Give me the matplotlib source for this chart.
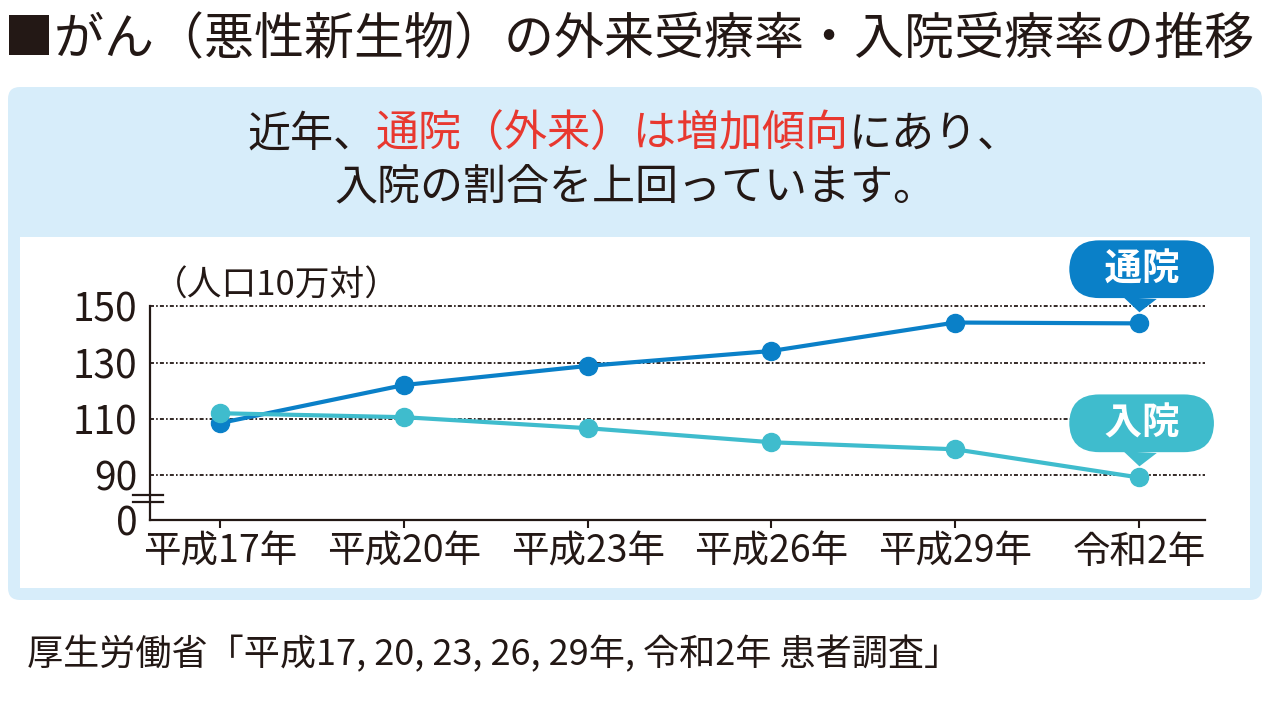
import matplotlib
matplotlib.use("Agg")
import matplotlib.pyplot as plt
from matplotlib.patches import FancyBboxPatch, Rectangle

plt.rcParams['font.family'] = ['Noto Sans CJK JP', 'DejaVu Sans']

# データ (人口10万対)
years = ['平成17年', '平成20年', '平成23年', '平成26年', '平成29年', '令和2年']
tsuin = [108.6, 122.1, 128.9, 134.2, 144.3, 144.0]   # 通院(外来)
nyuin = [112.1, 110.7, 106.8, 101.8, 99.3, 89.3]     # 入院
ytick_vals = [90, 110, 130, 150]
y_zero_pos = 74.2   # 省略記号の下に置く「0」の位置

BLUE = '#0a80c8'
CYAN = '#3fbccd'
RED = '#e8382f'
BOX = '#d7edfa'
INK = '#231815'

fig = plt.figure(figsize=(12.75, 7.07), dpi=100)
inch = fig.dpi_scale_trans

# 背景の水色ボックスと白い枠
fig.patches.append(FancyBboxPatch((0.08, 1.07), 12.54, 5.13,
                                  boxstyle='round,pad=0,rounding_size=0.12',
                                  transform=inch, fc=BOX, ec='none', zorder=0))
fig.patches.append(Rectangle((0.20, 1.19), 12.30, 3.51, transform=inch,
                             fc='white', ec='none', zorder=0.5))

# タイトル
fig.text(0.04, 6.67, '■がん（悪性新生物）の外来受療率・入院受療率の推移',
         transform=inch, fontsize=36, color=INK, va='center', ha='left')

# グラフ
ax = fig.add_axes([150 / 1275, 1 - 520 / 707, 1055 / 1275, 220 / 707])
ax.set_zorder(2)
ax.patch.set_visible(False)
x = list(range(len(years)))

for v in ytick_vals:
    ax.axhline(v, color=INK, lw=1.3, ls=(0, (2.2, 1.2, 0.9, 1.2)), zorder=1)

ax.plot(x, tsuin, color=BLUE, lw=3, marker='o', ms=13, zorder=3)
ax.plot(x, nyuin, color=CYAN, lw=3, marker='o', ms=13, zorder=4)

ax.set_xlim(-0.381, 5.36)
ax.set_ylim(y_zero_pos, 152.3)
ax.set_xticks(x)
ax.set_xticklabels(years, fontsize=27, color=INK)
ax.set_yticks([y_zero_pos] + ytick_vals)
ax.set_yticklabels(['0'] + [str(v) for v in ytick_vals], fontsize=28, color=INK)
ax.tick_params(axis='x', direction='out', length=6, width=1.5, color=INK, pad=3)
ax.tick_params(axis='y', length=0, pad=9)

for s in ['top', 'right']:
    ax.spines[s].set_visible(False)
for s in ['left', 'bottom']:
    ax.spines[s].set_color(INK)
    ax.spines[s].set_linewidth(1.6)
ax.spines['left'].set_bounds(y_zero_pos, 150)

# 軸の省略記号
ytr = ax.get_yaxis_transform()
for yb in [83.1, 80.6]:
    ax.plot([-0.016, 0.0125], [yb, yb], color=INK, lw=1.6,
            transform=ytr, clip_on=False, zorder=5)

# 単位
ax.text(0.003, 1.065, '（人口10万対）', transform=ax.transAxes,
        fontsize=25, color=INK, ha='left', va='center')

# 吹き出しラベル
for name, vals, col, dy in [('通院', tsuin, BLUE, 39), ('入院', nyuin, CYAN, 39)]:
    ax.annotate('   ' + name + '   ', xy=(x[-1], vals[-1]), xytext=(2, dy),
                textcoords='offset points', ha='center', va='center',
                fontsize=27, fontweight='bold', color='white',
                bbox=dict(boxstyle='round,pad=0.25,rounding_size=0.8', fc=col, ec='none'),
                arrowprops=dict(arrowstyle='wedge,tail_width=1.2,shrink_factor=0.5',
                                fc=col, ec='none', shrinkA=0, shrinkB=8,
                                mutation_scale=20),
                annotation_clip=False, zorder=6)

# 説明文 (2行目は中央寄せ、1行目は色分け)
t1 = fig.text(2.47, 7.07 - 1.35, '近年、', transform=inch, fontsize=31,
              color=INK, ha='left', va='center')
t2 = ax.annotate('通院（外来）は増加傾向', xy=(1, 0), xycoords=t1, ha='left',
                 va='bottom', fontsize=31, color=RED, annotation_clip=False)
ax.annotate('にあり、', xy=(1, 0), xycoords=t2, ha='left', va='bottom',
            fontsize=31, color=INK, annotation_clip=False)
fig.text(6.35, 7.07 - 1.87, '入院の割合を上回っています。', transform=inch,
         fontsize=31, color=INK, ha='center', va='center')

# 出典
fig.text(0.27, 7.07 - 6.55, '厚生労働省「平成17, 20, 23, 26, 29年, 令和2年 患者調査」',
         transform=inch, fontsize=26, color=INK, ha='left', va='center')

fig.savefig('out.png', dpi=100)
